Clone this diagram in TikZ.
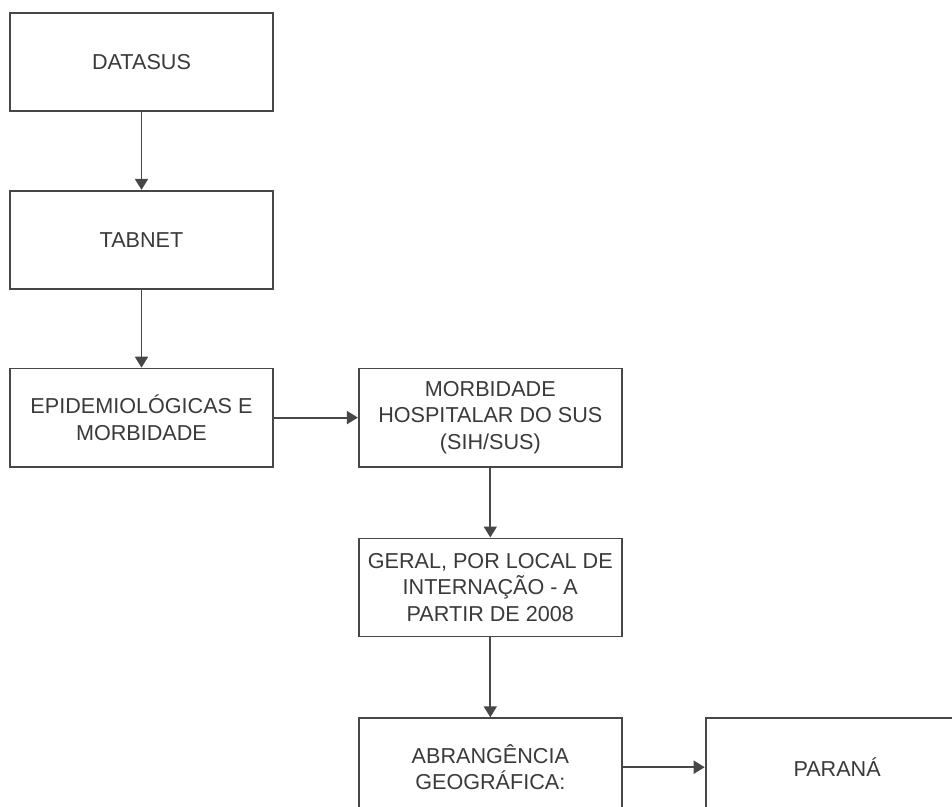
\documentclass[tikz,border=0pt]{standalone}
\usepackage{fontspec}
\setmainfont{Liberation Sans}
\usepackage{xcolor}
\usetikzlibrary{arrows.meta}
\usetikzlibrary{positioning}
\definecolor{boxline}{HTML}{474747}
\definecolor{boxtext}{HTML}{3A3A3A}
\tikzstyle{stage} = [rectangle,fill=white,draw=boxline,line width=0.9pt,
minimum width=131.5pt, minimum height=49pt, inner sep=0pt, align=center,
text=boxtext, font=\fontsize{10.8}{13.3}\selectfont, node distance=39pt]
\newcommand{\flow}[3][]{ %
  % Connect all nodes #2 to all nodes #3.
  \foreach \a in {#2} { %
    \foreach \b in {#3} { %
      \path (\a) edge [->, >={Triangle[length=5.5pt,width=6.5pt]}, draw=boxline, line width=0.9pt, #1] (\b) ;%
    } ;
  } ;
}

\begin{document}
\begin{tikzpicture}
  \useasboundingbox (0,0) rectangle (476pt,-403.5pt);
  \clip (0,0) rectangle (476pt,-403.5pt);
  % left column
  \node[stage] at (70.75pt,-31pt)            (datasus) {DATASUS};
  \node[stage, below = of datasus]           (tabnet) {TABNET};
  \node[stage, below = of tabnet]            (epid) {EPIDEMIOLÓGICAS E\\MORBIDADE};
  % middle column
  \node[stage, right = 42pt of epid]         (morb) {MORBIDADE\\HOSPITALAR DO SUS\\(SIH/SUS)};
  \node[stage, below = 35pt of morb]         (geral) {GERAL, POR LOCAL DE\\INTERNAÇÃO - A\\PARTIR DE 2008};
  \node[stage, below = 40pt of geral]        (abrang) {ABRANGÊNCIA\\GEOGRÁFICA:};
  % right column
  \node[stage, right = 41pt of abrang]       (parana) {PARANÁ};

  % edges
  \flow {datasus} {tabnet}
  \flow {tabnet} {epid}
  \flow {epid} {morb}
  \flow {morb} {geral}
  \flow {geral} {abrang}
  \flow {abrang} {parana}
\end{tikzpicture}
\end{document}
